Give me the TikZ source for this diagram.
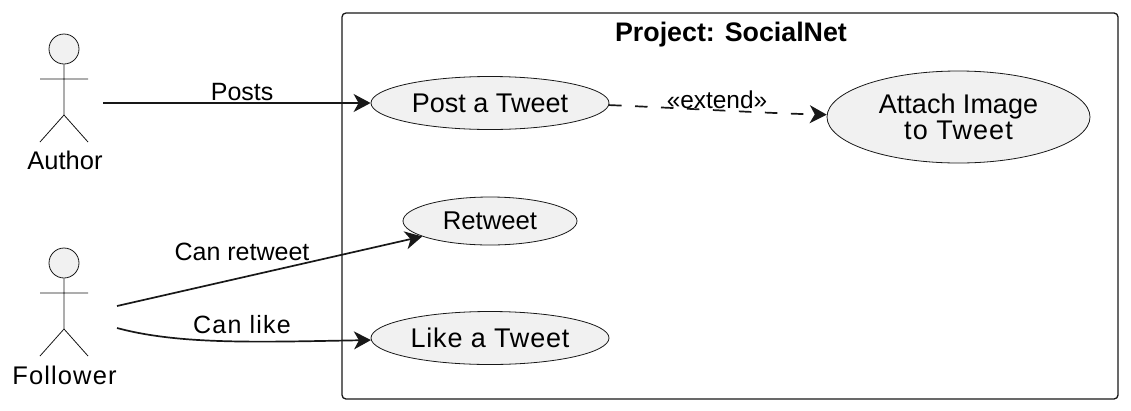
\documentclass[tikz,border=0pt]{standalone}
\usepackage{fontspec}
\setmainfont{Liberation Sans}
\usetikzlibrary{arrows.meta,shapes.geometric}
\definecolor{ink}{HTML}{181818}
\definecolor{usefill}{HTML}{F1F1F1}
\tikzset{
  usecase/.style={ellipse,draw=ink,fill=usefill,line width=0.8pt,inner sep=0pt,align=center,
    font=\fontsize{27}{26.5}\selectfont},
  usearrow/.style={draw=ink,line width=1.7pt,-{Stealth[length=17pt,width=18pt,inset=5pt]}},
  edgelabel/.style={font=\fontsize{25}{29}\selectfont,inner sep=0pt},
  actorlabel/.style={font=\fontsize{25.5}{29}\selectfont,inner sep=0pt},
  actor/.pic={
    \node [circle,draw=ink,fill=usefill,line width=0.8pt,minimum size=30pt,inner sep=0pt] (-head) at (0,0) {};
    \draw [ink,line width=0.8pt] (-head.south) -- (0,66)
      (-24,30) -- (24,30)
      (-24,93) -- (0,66) -- (24,93);
  }
}
\newcommand{\widertext}[2]{{\addfontfeature{LetterSpace=#1}#2}}
\begin{document}
\begin{tikzpicture}[x=1pt,y=-1pt]
  \useasboundingbox (0,0) rectangle (1131,410);
  % the project box
  \path (342,13) coordinate(boxnw)
        (1118,399) coordinate(boxse);
  \draw [ink,line width=1.3pt,rounded corners=4pt] (boxnw) rectangle (boxse);
  \path (731,34.5) node(title) [inner sep=0pt,font=\fontsize{26.8}{29}\selectfont\bfseries] {Project: SocialNet};
  % actors
  \path (64,49) pic(author) {actor}
        (64,263) pic(follower) {actor};
  \path (65,160) node(authorname) [actorlabel] {Author}
        (64.5,375) node(followername) [actorlabel] {\widertext{4.4}{Follower}};
  \path (103,103) coordinate(authorout)
        (117,306) coordinate(retweetout)
        (117,328) coordinate(likeout);
  % use cases
  \path (490,103) node(post) [usecase,minimum width=238pt,minimum height=53pt] {Post a Tweet}
        (958.5,117) node(attach) [usecase,minimum width=263pt,minimum height=92pt] {Attach Image\\\widertext{4}{to Tweet}}
        (490,221) node(retweet) [usecase,minimum width=174pt,minimum height=48pt,font=\fontsize{25.7}{29}\selectfont] {Retweet}
        (490,338) node(like) [usecase,minimum width=238pt,minimum height=53pt] {\widertext{3}{Like a Tweet}};
  % connectors
  \draw [usearrow] (authorout) to node [pos=0.52,edgelabel,yshift=11pt]{Posts} (post);
  \draw [usearrow] (retweetout) to (retweet);
  \path (242,252) node(retweetlabel) [edgelabel] {Can retweet}
        (242,325) node(likelabel) [edgelabel] {\widertext{5}{Can like}};
  \draw [usearrow] (likeout) .. controls (180,345) and (260,342) .. (like);
  \draw [usearrow,dash pattern=on 12.5pt off 13.5pt] (post.-1.5) .. controls (680,108) and (760,113) .. (attach.179);
  \path (717,100) node(extendlabel) [edgelabel,font=\fontsize{24.4}{26}\selectfont] {«extend»};
\end{tikzpicture}
\end{document}
